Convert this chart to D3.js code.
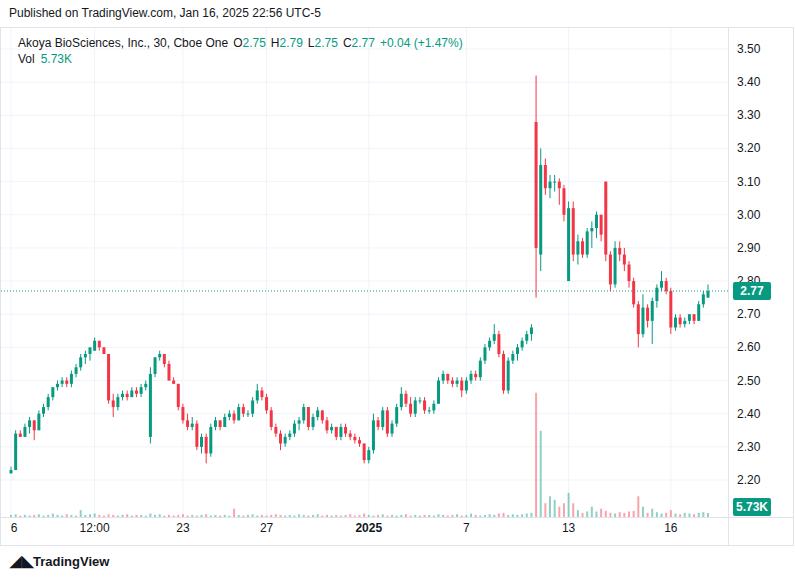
<!DOCTYPE html>
<html><head><meta charset="utf-8">
<script src="https://cdn.jsdelivr.net/npm/d3@7"></script>
<style>body{margin:0;background:#fff;font-family:"Liberation Sans",Arial,sans-serif}</style>
</head><body><svg id="chart" width="795" height="578"></svg>
<script>
// [open, high, low, close] per 30-min bar
const candles = [
[2.22,2.24,2.22,2.23],[2.23,2.35,2.23,2.34],[2.34,2.35,2.33,2.33],[2.33,2.37,2.33,2.36],[2.36,2.39,2.34,2.38],
[2.38,2.38,2.32,2.35],[2.35,2.41,2.35,2.40],[2.40,2.43,2.39,2.42],[2.42,2.46,2.41,2.45],[2.45,2.48,2.44,2.48],
[2.48,2.50,2.47,2.49],[2.49,2.51,2.48,2.50],[2.50,2.51,2.48,2.49],[2.49,2.53,2.48,2.52],[2.52,2.55,2.51,2.54],
[2.54,2.58,2.53,2.57],[2.57,2.59,2.55,2.58],[2.58,2.60,2.56,2.60],[2.59,2.63,2.59,2.62],[2.62,2.62,2.59,2.60],
[2.60,2.60,2.58,2.58],[2.58,2.58,2.43,2.44],[2.44,2.46,2.39,2.42],[2.42,2.46,2.41,2.45],[2.45,2.47,2.44,2.46],
[2.46,2.47,2.44,2.45],[2.45,2.48,2.45,2.47],[2.47,2.48,2.45,2.46],[2.46,2.49,2.45,2.48],[2.48,2.50,2.47,2.49],
[2.33,2.54,2.31,2.52],[2.52,2.57,2.51,2.57],[2.57,2.59,2.56,2.58],[2.58,2.58,2.54,2.55],[2.55,2.56,2.50,2.50],
[2.50,2.51,2.49,2.49],[2.49,2.49,2.41,2.42],[2.42,2.43,2.37,2.38],[2.38,2.40,2.35,2.36],[2.36,2.39,2.35,2.37],
[2.37,2.38,2.29,2.30],[2.30,2.34,2.28,2.33],[2.33,2.34,2.25,2.28],[2.28,2.37,2.27,2.36],[2.36,2.39,2.35,2.38],
[2.38,2.38,2.35,2.36],[2.36,2.40,2.36,2.39],[2.39,2.41,2.38,2.40],[2.40,2.41,2.37,2.38],[2.38,2.43,2.38,2.42],
[2.42,2.43,2.39,2.40],[2.40,2.41,2.39,2.40],[2.40,2.45,2.39,2.44],[2.44,2.49,2.43,2.47],[2.47,2.48,2.44,2.45],
[2.45,2.46,2.40,2.41],[2.41,2.42,2.35,2.36],[2.36,2.37,2.33,2.34],[2.34,2.35,2.29,2.31],[2.31,2.34,2.30,2.33],
[2.33,2.35,2.32,2.34],[2.34,2.38,2.33,2.37],[2.37,2.39,2.35,2.38],[2.38,2.43,2.37,2.42],[2.42,2.42,2.35,2.36],
[2.36,2.40,2.35,2.39],[2.39,2.42,2.38,2.41],[2.41,2.41,2.37,2.38],[2.38,2.39,2.34,2.35],[2.35,2.37,2.34,2.36],
[2.36,2.36,2.32,2.33],[2.33,2.37,2.32,2.36],[2.36,2.37,2.33,2.34],[2.34,2.35,2.32,2.33],[2.33,2.34,2.31,2.32],
[2.32,2.33,2.30,2.31],[2.31,2.31,2.25,2.26],[2.26,2.30,2.25,2.29],[2.29,2.40,2.28,2.38],[2.38,2.39,2.35,2.36],
[2.36,2.42,2.35,2.41],[2.41,2.42,2.33,2.34],[2.34,2.38,2.33,2.37],[2.37,2.43,2.36,2.42],[2.42,2.48,2.41,2.46],
[2.46,2.47,2.42,2.43],[2.43,2.45,2.39,2.40],[2.40,2.45,2.39,2.44],[2.44,2.45,2.43,2.44],[2.44,2.45,2.40,2.41],
[2.41,2.42,2.40,2.41],[2.41,2.44,2.40,2.43],[2.43,2.51,2.43,2.50],[2.50,2.53,2.49,2.52],[2.52,2.52,2.49,2.50],
[2.50,2.51,2.48,2.49],[2.49,2.51,2.48,2.50],[2.50,2.51,2.45,2.47],[2.47,2.51,2.46,2.50],[2.50,2.53,2.49,2.52],
[2.52,2.53,2.50,2.51],[2.51,2.57,2.50,2.56],[2.56,2.61,2.55,2.60],[2.60,2.63,2.59,2.62],[2.62,2.67,2.61,2.64],
[2.64,2.65,2.57,2.58],[2.58,2.59,2.46,2.47],[2.47,2.57,2.46,2.56],[2.56,2.59,2.55,2.58],[2.58,2.61,2.56,2.60],
[2.60,2.63,2.59,2.62],[2.62,2.65,2.61,2.64],[2.64,2.67,2.62,2.66],[3.28,3.42,2.75,2.90],[2.88,3.20,2.83,3.15],
[3.15,3.17,3.06,3.08],[3.08,3.12,3.05,3.10],[3.10,3.12,3.07,3.10],[3.10,3.11,3.03,3.08],[3.08,3.09,2.98,3.00],
[2.80,3.04,2.80,3.02],[3.02,3.04,2.86,2.88],[2.88,2.94,2.85,2.92],[2.92,2.93,2.87,2.88],[2.88,2.96,2.87,2.95],
[2.95,2.98,2.90,2.96],[2.96,3.01,2.93,3.00],[3.00,3.00,2.92,2.94],[3.10,3.10,2.86,2.88],[2.88,2.89,2.77,2.79],
[2.79,2.92,2.78,2.90],[2.90,2.92,2.86,2.88],[2.88,2.90,2.83,2.85],[2.85,2.86,2.78,2.80],[2.80,2.81,2.72,2.73],
[2.73,2.74,2.60,2.64],[2.64,2.76,2.63,2.72],[2.72,2.73,2.66,2.68],[2.68,2.75,2.61,2.74],[2.74,2.79,2.72,2.78],
[2.78,2.83,2.77,2.80],[2.80,2.81,2.76,2.77],[2.77,2.78,2.64,2.66],[2.66,2.70,2.65,2.69],[2.69,2.70,2.66,2.67],
[2.67,2.69,2.66,2.68],[2.68,2.70,2.67,2.70],[2.70,2.70,2.67,2.68],[2.68,2.74,2.68,2.73],[2.73,2.77,2.72,2.76],
[2.75,2.79,2.75,2.77]];

// volume in thousands
const volumes = [
3,4,2,3,2,3,4,2,3,5, 3,2,4,3,2,10,3,4,5,3, 2,4,3,2,3,4,2,3,3,2, 5,3,4,2,3,2,3,4,2,3,
2,3,4,2,3,2,3,2,12,3, 2,3,4,2,3,2,3,4,3,2, 3,2,4,3,2,3,4,2,3,2, 3,2,3,4,2,3,5,3,2,3,
4,2,3,2,3,4,2,3,2,3, 3,2,4,3,2,3,4,2,3,5, 3,2,3,4,3,5,6,3,4,3, 4,5,6,180,125,20,30,25,15,20,
35,20,10,6,8,15,8,12,9,6, 5,7,6,8,9,30,15,6,12,7, 5,6,10,5,4,6,5,4,6,7, 5.73];

const tickLabels = ["6","12:00","23","27","2025","7","13","16"];
const tickIndex = [0,18,37,55,77,98,120,142];
const priceTicks = [2.20,2.30,2.40,2.50,2.60,2.70,2.80,2.90,3.00,3.10,3.20,3.30,3.40,3.50];

const up = "#089981", down = "#f23645";
const svg = d3.select("#chart");
const plotL = 1, plotR = 728, plotT = 28, plotB = 517;

const x = d3.scaleLinear().domain([0, candles.length - 1]).range([11, 708]);
const y = d3.scaleLinear().domain([2.20, 3.50]).range([480, 49]);
const v = d3.scaleLinear().domain([0, 300]).range([517, 310]);
const bw = 3;

// frame
svg.append("rect").attr("x", 0.5).attr("y", 27.5).attr("width", 793).attr("height", 518)
  .attr("fill", "#fff").attr("stroke", "#e0e3eb");

// grid
svg.append("g").selectAll("line").data(priceTicks).join("line")
  .attr("x1", plotL).attr("x2", plotR).attr("y1", d => y(d)).attr("y2", d => y(d))
  .attr("stroke", "#f0f3fa");
svg.append("g").selectAll("line").data(tickIndex).join("line")
  .attr("x1", d => x(d)).attr("x2", d => x(d)).attr("y1", plotT).attr("y2", plotB)
  .attr("stroke", "#f0f3fa");

// axes separators
svg.append("line").attr("x1", plotR + 0.5).attr("x2", plotR + 0.5).attr("y1", 28).attr("y2", 545).attr("stroke", "#e0e3eb");
svg.append("line").attr("x1", 1).attr("x2", 794).attr("y1", 517.5).attr("y2", 517.5).attr("stroke", "#e0e3eb");

// volume
svg.append("g").selectAll("rect").data(volumes).join("rect")
  .attr("x", (d, i) => x(i) - 1).attr("width", 2)
  .attr("y", d => v(d)).attr("height", d => 517 - v(d))
  .attr("fill", (d, i) => candles[i][3] >= candles[i][0] ? up : down).attr("opacity", 0.45);

// candles
const g = svg.append("g");
g.selectAll("line").data(candles).join("line")
  .attr("x1", (d, i) => x(i)).attr("x2", (d, i) => x(i))
  .attr("y1", d => y(d[1])).attr("y2", d => y(d[2]))
  .attr("stroke", d => d[3] >= d[0] ? up : down).attr("stroke-width", 1);
g.selectAll("rect").data(candles).join("rect")
  .attr("x", (d, i) => x(i) - bw / 2).attr("width", bw)
  .attr("y", d => y(Math.max(d[0], d[3])))
  .attr("height", d => Math.max(1, Math.abs(y(d[0]) - y(d[3]))))
  .attr("fill", d => d[3] >= d[0] ? up : down);

// last price line
const last = candles[candles.length - 1][3];
svg.append("line").attr("x1", plotL).attr("x2", plotR).attr("y1", y(last)).attr("y2", y(last))
  .attr("stroke", up).attr("stroke-dasharray", "1,2");

// price axis labels (2.80 sits half under the last-price tag, shown clipped)
svg.append("defs").append("clipPath").attr("id", "above-tag")
  .append("rect").attr("x", 729).attr("y", 0).attr("width", 66).attr("height", y(last) - 9);
svg.append("g").selectAll("text").data(priceTicks).join("text")
  .attr("x", 737).attr("y", d => y(d) + 4).attr("font-size", 12).attr("fill", "#131722")
  .attr("clip-path", d => Math.abs(d - 2.8) < 0.001 ? "url(#above-tag)" : null)
  .text(d => d.toFixed(2));
const tag = (yy, txt) => {
  svg.append("rect").attr("x", 733).attr("y", yy - 9).attr("width", 38).attr("height", 18).attr("rx", 2).attr("fill", up);
  svg.append("text").attr("x", 752).attr("y", yy + 4).attr("text-anchor", "middle")
    .attr("font-size", 12).attr("font-weight", "bold").attr("fill", "#fff").text(txt);
};
tag(y(last), last.toFixed(2));
tag(507, "5.73K");

// time axis
svg.append("g").selectAll("text").data(tickLabels).join("text")
  .attr("x", (d, i) => x(tickIndex[i]) + (i === 0 ? 3 : 0)).attr("y", 532).attr("text-anchor", "middle")
  .attr("font-size", 12).attr("font-weight", d => d === "2025" ? "bold" : "normal").attr("fill", "#131722")
  .text(d => d);

// header and legend
svg.append("text").attr("x", 9).attr("y", 17).attr("font-size", 12).attr("fill", "#131722")
  .text("Published on TradingView.com, Jan 16, 2025 22:56 UTC-5");
const leg = svg.append("text").attr("x", 18).attr("y", 47).attr("font-size", 12).attr("fill", "#131722");
leg.append("tspan").text("Akoya BioSciences, Inc., 30, Cboe One");
[["O", "2.75"], ["H", "2.79"], ["L", "2.75"], ["C", "2.77"]].forEach(([k, val]) => {
  leg.append("tspan").attr("dx", 5).text(k);
  leg.append("tspan").attr("fill", up).text(val);
});
leg.append("tspan").attr("dx", 5).attr("fill", up).text("+0.04 (+1.47%)");
const vl = svg.append("text").attr("x", 18).attr("y", 63).attr("font-size", 12).attr("fill", "#131722");
vl.append("tspan").text("Vol");
vl.append("tspan").attr("dx", 6).attr("fill", up).text("5.73K");

// footer logo
svg.append("text").attr("x", 10).attr("y", 566).attr("font-size", 15).attr("font-weight", "bold").attr("fill", "#131722").text("◢◣");
svg.append("text").attr("x", 33).attr("y", 566).attr("font-size", 13).attr("font-weight", "bold").attr("fill", "#131722").text("TradingView");
</script></body></html>
